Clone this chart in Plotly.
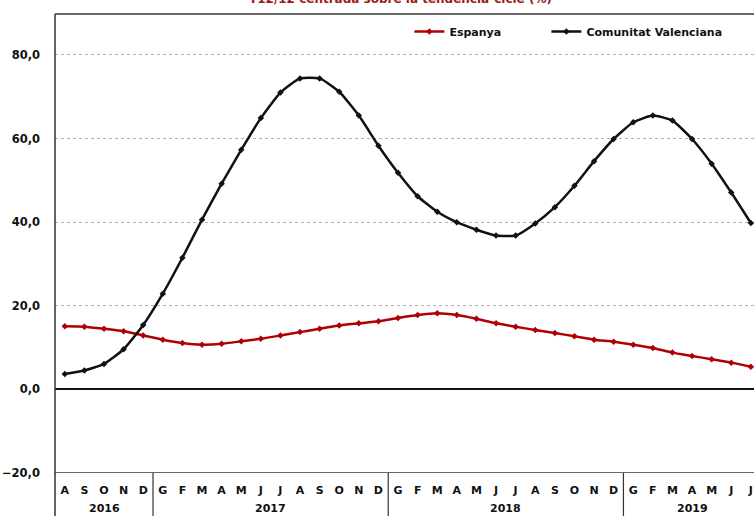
import plotly.graph_objects as go

months = ["A", "S", "O", "N", "D",
          "G", "F", "M", "A", "M", "J", "J", "A", "S", "O", "N", "D",
          "G", "F", "M", "A", "M", "J", "J", "A", "S", "O", "N", "D",
          "G", "F", "M", "A", "M", "J", "J"]
years = ["2016", "2017", "2018", "2019"]
year_centers = [2, 10.5, 22.5, 32]
year_breaks = [4.5, 16.5, 28.5]

espanya = [15.1, 15.0, 14.5, 13.9, 12.9,
           11.9, 11.1, 10.7, 10.9, 11.5, 12.1, 12.9, 13.7, 14.5, 15.3, 15.8, 16.3,
           17.1, 17.8, 18.2, 17.8, 16.9, 15.8, 15.0, 14.2, 13.5, 12.7, 11.9, 11.4,
           10.7, 9.9, 8.8, 8.0, 7.2, 6.4, 5.4]
cval = [3.7, 4.5, 6.1, 9.6, 15.4,
        22.9, 31.5, 40.6, 49.2, 57.3, 64.9, 71.0, 74.4, 74.4, 71.2, 65.5, 58.3,
        51.8, 46.2, 42.5, 40.0, 38.2, 36.8, 36.8, 39.7, 43.6, 48.7, 54.6, 59.9,
        63.9, 65.5, 64.3, 59.9, 54.0, 47.1, 39.8]

x = list(range(len(months)))
FONT = "DejaVu Sans"

fig = go.Figure()
fig.add_trace(go.Scatter(
    x=x, y=espanya, name="Espanya", mode="lines+markers", legend="legend",
    line=dict(color="#B00000", width=2.5, shape="spline", smoothing=0.5),
    marker=dict(symbol="diamond", size=5, color="#B00000"),
))
fig.add_trace(go.Scatter(
    x=x, y=cval, name="Comunitat Valenciana", mode="lines+markers", legend="legend2",
    line=dict(color="#111111", width=2.5, shape="spline", smoothing=0.5),
    marker=dict(symbol="diamond", size=5, color="#111111"),
))

shapes = []
for b in year_breaks:
    shapes.append(dict(type="line", xref="x", yref="paper", x0=b, x1=b,
                       y0=0, y1=-0.12, line=dict(color="#333333", width=1.2)))
shapes.append(dict(type="line", xref="paper", yref="paper", x0=0, x1=0,
                   y0=-0.12, y1=1, line=dict(color="#333333", width=1.5)))
shapes.append(dict(type="line", xref="paper", yref="paper", x0=0, x1=1,
                   y0=1, y1=1, line=dict(color="#333333", width=1.5)))

annotations = []
for yr, c in zip(years, year_centers):
    annotations.append(dict(text=yr, x=c, y=-0.0784, xref="x", yref="paper",
                            showarrow=False, yanchor="middle",
                            font=dict(family=FONT, size=11, color="#111111", weight="bold")))
annotations.append(dict(text="T12/12 centrada sobre la tendència-cicle (%)",
                        x=0.494, xref="paper", y=1.014, yref="paper",
                        yanchor="bottom", showarrow=False,
                        font=dict(family=FONT, size=12, color="#9B1B1B", weight="bold")))

legend_font = dict(family=FONT, size=11, color="#111111", weight="bold")
fig.update_layout(
    width=754, height=516,
    margin=dict(l=55, r=0, t=14, b=43, autoexpand=False),
    paper_bgcolor="white", plot_bgcolor="white",
    separators=",.",
    showlegend=True,
    legend=dict(orientation="h", x=0.507, y=0.962, xanchor="left", yanchor="middle",
                bgcolor="rgba(0,0,0,0)", font=legend_font, itemwidth=30),
    legend2=dict(orientation="h", x=0.703, y=0.962, xanchor="left", yanchor="middle",
                 bgcolor="rgba(0,0,0,0)", font=legend_font, itemwidth=30),
    xaxis=dict(range=[-0.5, 35.16], tickmode="array", tickvals=x, ticktext=months,
               showgrid=False, zeroline=False, showline=False,
               ticks="outside", ticklen=7, tickcolor="rgba(0,0,0,0)",
               tickfont=dict(family=FONT, size=11, color="#111111", weight="bold"),
               automargin=False),
    yaxis=dict(range=[-20, 89.8], tickvals=[-20, 0, 20, 40, 60, 80], tickformat=".1f",
               showgrid=True, gridcolor="#B0B0B0", griddash="dot", gridwidth=1,
               zeroline=True, zerolinecolor="#111111", zerolinewidth=1.8,
               showline=False, ticks="", ticklabelstandoff=14, automargin=False,
               tickfont=dict(family=FONT, size=11.5, color="#111111", weight="bold")),
    shapes=shapes, annotations=annotations,
)
fig.add_shape(type="line", xref="paper", yref="y", x0=0, x1=1, y0=-20, y1=-20,
              line=dict(color="#333333", width=1.5))

fig.write_html("out.html", config={"displayModeBar": False},
               post_script="document.body.style.margin='0';")
